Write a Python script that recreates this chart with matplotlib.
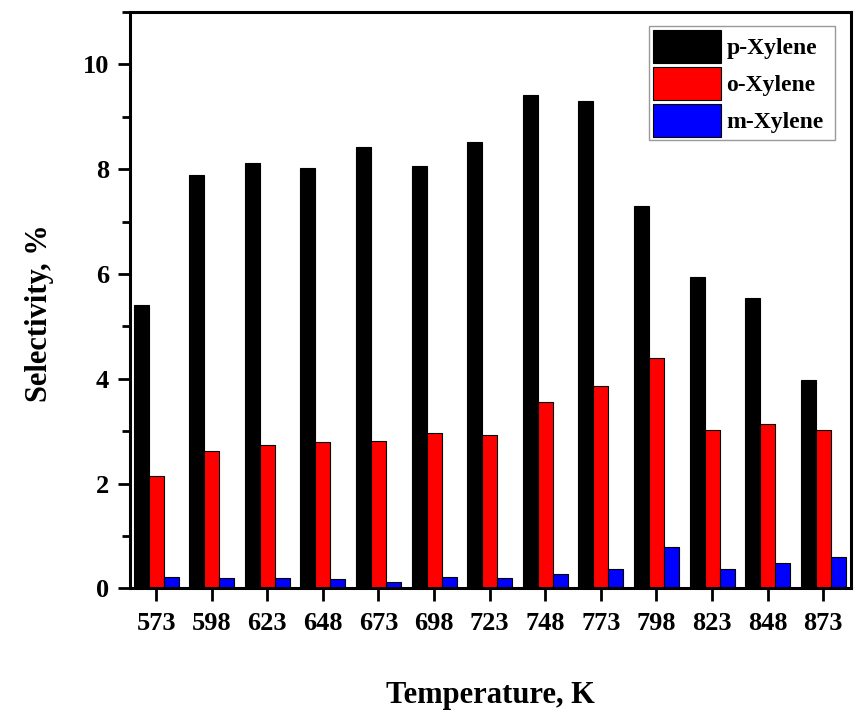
import numpy as np
import matplotlib.pyplot as plt
from matplotlib.ticker import MultipleLocator

# datos
temperatures = ['573', '598', '623', '648', '673', '698', '723',
                '748', '773', '798', '823', '848', '873']
p_xylene = [5.40, 7.89, 8.11, 8.02, 8.42, 8.06, 8.51, 9.42, 9.30, 7.30, 5.94, 5.55, 3.97]
o_xylene = [2.14, 2.63, 2.74, 2.79, 2.81, 2.97, 2.93, 3.55, 3.86, 4.39, 3.02, 3.13, 3.02]
m_xylene = [0.22, 0.20, 0.19, 0.17, 0.13, 0.22, 0.19, 0.27, 0.36, 0.79, 0.36, 0.48, 0.59]

plt.rcParams['font.family'] = ['Liberation Serif', 'DejaVu Serif']
plt.rcParams['font.weight'] = 'bold'

fig = plt.figure(figsize=(8.65, 7.21), dpi=100)
ax = fig.add_axes([0.1503, 0.184, 0.8335, 0.7994])

x = np.arange(len(temperatures))
w = 0.27
ax.bar(x - w, p_xylene, w, color='black', edgecolor='black', linewidth=0.8, label='p-Xylene')
ax.bar(x, o_xylene, w, color='#ff0000', edgecolor='black', linewidth=0.8, label='o-Xylene')
ax.bar(x + w, m_xylene, w, color='#0000ff', edgecolor='black', linewidth=0.8, label='m-Xylene')

ax.set_xlim(-0.47, 12.5)
ax.set_ylim(0, 11)
ax.set_xticks(x)
ax.set_xticklabels(temperatures)
ax.yaxis.set_major_locator(MultipleLocator(2))
ax.yaxis.set_minor_locator(MultipleLocator(1))

for s in ax.spines.values():
  s.set_linewidth(2.2)

ax.tick_params(axis='both', which='major', direction='out', length=9, width=2,
               labelsize=19, pad=6)
ax.tick_params(axis='x', which='major', pad=8)
ax.tick_params(axis='y', which='minor', direction='out', length=5.5, width=2)
ax.tick_params(top=False, right=False)

ax.set_xlabel('Temperature, K', fontsize=22, fontweight='bold', labelpad=33)
ax.set_ylabel('Selectivity, %', fontsize=22, fontweight='bold')
ax.yaxis.set_label_coords(-0.105, 0.477)

# leyenda con caja fija (modo expand)
leg = ax.legend(loc='upper left', bbox_to_anchor=(0.7198, 0.5, 0.258, 0.4757),
                mode='expand', borderaxespad=0, fontsize=17, frameon=True,
                fancybox=False, handlelength=2.88, handleheight=1.78,
                labelspacing=0.17, handletextpad=0.25, borderpad=0.15)
leg.get_frame().set_edgecolor('#808080')
leg.get_frame().set_linewidth(1.0)

fig.savefig('out.png', dpi=100)
